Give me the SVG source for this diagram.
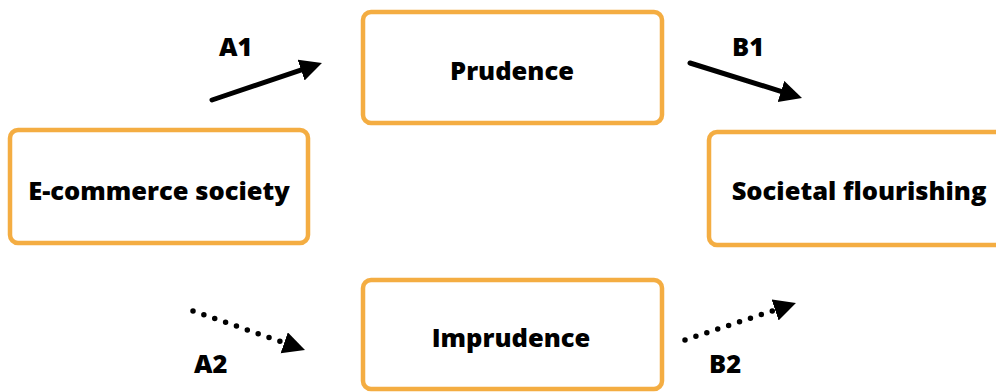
<svg xmlns="http://www.w3.org/2000/svg" width="996" height="392" viewBox="0 0 996 392">
<style>
.box{fill:#fff;stroke:#F4AD42;stroke-width:4.5}
.lbl{font-family:"Open Sans","Liberation Sans",sans-serif;font-weight:800;font-size:25.5px;fill:#000}
.solid{stroke:#000;stroke-width:5;fill:none;stroke-linecap:round}
.dot{stroke:#000;stroke-width:5.5;fill:none;stroke-linecap:round;stroke-dasharray:0 11.5}
</style>
<defs>
<marker id="ah" markerUnits="userSpaceOnUse" markerWidth="24" markerHeight="24" refX="9" refY="11" orient="auto" viewBox="0 0 24 24">
<path d="M0,0 L22,11 L0,22 z" fill="#000"/>
</marker>
</defs>
<rect width="996" height="392" fill="#fff"/>
<g id="ecommerce">
<rect class="box" x="10" y="130" width="298" height="113" rx="8"/>
<text class="lbl" x="159" y="200" text-anchor="middle">E-commerce society</text>
</g>
<g id="prudence">
<rect class="box" x="363" y="12" width="299" height="111" rx="8"/>
<text class="lbl" x="512" y="80" text-anchor="middle">Prudence</text>
</g>
<g id="imprudence">
<rect class="box" x="363" y="280" width="299" height="109" rx="8"/>
<text class="lbl" x="511" y="347" text-anchor="middle">Imprudence</text>
</g>
<g id="flourishing">
<rect class="box" x="709" y="132" width="300" height="113" rx="8"/>
<text class="lbl" x="859" y="200" text-anchor="middle">Societal flourishing</text>
</g>
<g id="connectors">
<line class="solid" x1="212" y1="100" x2="309.6" y2="67.2" marker-end="url(#ah)"/>
<line class="solid" x1="690" y1="63" x2="789.6" y2="94.1" marker-end="url(#ah)"/>
<line class="dot" x1="193" y1="311" x2="292.7" y2="345.7" marker-end="url(#ah)"/>
<line class="dot" x1="685" y1="340" x2="783.6" y2="307.1" marker-end="url(#ah)"/>
<text class="lbl" x="219" y="56">A1</text>
<text class="lbl" x="732" y="56">B1</text>
<text class="lbl" x="194" y="373">A2</text>
<text class="lbl" x="709" y="373">B2</text>
</g>
</svg>
